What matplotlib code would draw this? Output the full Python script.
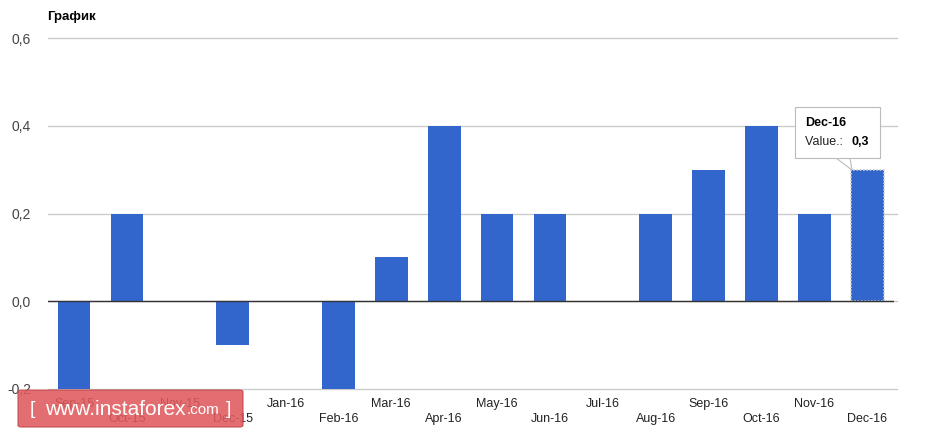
import matplotlib
matplotlib.use("Agg")
import matplotlib.pyplot as plt
from matplotlib.patches import FancyBboxPatch, Polygon

plt.rcParams['font.family'] = ['Liberation Sans', 'DejaVu Sans']

months = ["Sep-15", "Oct-15", "Nov-15", "Dec-15", "Jan-16", "Feb-16", "Mar-16", "Apr-16",
          "May-16", "Jun-16", "Jul-16", "Aug-16", "Sep-16", "Oct-16", "Nov-16", "Dec-16"]
values = [-0.2, 0.2, 0.0, -0.1, 0.0, -0.2, 0.1, 0.4, 0.2, 0.2, 0.0, 0.2, 0.3, 0.4, 0.2, 0.3]
yticks = [-0.2, 0.0, 0.2, 0.4, 0.6]
ytick_labels = ["-0,2", "0,0", "0,2", "0,4", "0,6"]
title = "График"
tooltip_month = "Dec-16"
tooltip_value = "0,3"

W, H = 931, 440
fig = plt.figure(figsize=(W / 100, H / 100), dpi=100)
left, right, top, bottom = 47.6, 893.6, 38, 389
ax = fig.add_axes([left / W, 1 - bottom / H, (right - left) / W, (bottom - top) / H])

x = list(range(len(months)))
bars = ax.bar(x, values, width=0.62, color="#3366cc", zorder=3)
# highlight last bar
bars[-1].set_edgecolor("#cccccc")
bars[-1].set_linewidth(1.2)
bars[-1].set_linestyle((0, (1, 1)))

ax.set_xlim(-0.5, len(months) - 0.5)
ax.set_ylim(-0.2, 0.6)
ax.set_yticks(yticks)
ax.set_yticklabels(ytick_labels, color="#444444", fontsize=10)
for y in yticks:
    ax.axhline(y, color="#cccccc", lw=1, zorder=1, xmax=1.004, clip_on=False)
ax.axhline(0, color="#333333", lw=1, zorder=4)
for s in ax.spines.values():
    s.set_visible(False)
ax.tick_params(axis="both", length=0)
ax.tick_params(axis="y", pad=12)
ax.set_xticks([])

for i, m in enumerate(months):
    yoff = 15 if i % 2 == 0 else 30
    ax.annotate(m, xy=(i, -0.2), xycoords="data", xytext=(0, -yoff), textcoords="offset pixels",
                ha="center", va="center", fontsize=9, color="#222222")

fig.text(47 / W, 1 - 17 / H, title, fontsize=9.5, fontweight="bold", color="#000000",
         ha="left", va="center")

# Tooltip
tx0, ty0, tx1, ty1 = 795, 107, 880, 158
ptr = Polygon([[836 / W, 1 - ty1 / H], [852 / W, 1 - 170 / H], [850 / W, 1 - ty1 / H]],
              closed=True, transform=fig.transFigure, facecolor="white", edgecolor="#bbbbbb",
              lw=0.8, zorder=10)
fig.add_artist(ptr)
box = FancyBboxPatch((tx0 / W, 1 - ty1 / H), (tx1 - tx0) / W, (ty1 - ty0) / H,
                     boxstyle="square,pad=0", transform=fig.transFigure,
                     facecolor="white", edgecolor="#bbbbbb", lw=0.8, zorder=11)
fig.add_artist(box)
fig.text(805 / W, 1 - 123 / H, tooltip_month, fontsize=9, fontweight="bold", color="#000000",
         ha="left", va="center", zorder=12)
fig.text(805 / W, 1 - 142 / H, "Value.: ", fontsize=9, color="#222222",
         ha="left", va="center", zorder=12)
fig.text(851 / W, 1 - 142 / H, tooltip_value, fontsize=9, fontweight="bold", color="#000000",
         ha="left", va="center", zorder=12)

# Watermark
wm = FancyBboxPatch((18 / W, 1 - 427 / H), (243 - 18) / W, (427 - 390) / H,
                    boxstyle="round,pad=0,rounding_size=0.004", transform=fig.transFigure,
                    facecolor="#e05a5e", edgecolor="#c04448", lw=0.8, alpha=0.88, zorder=20)
fig.add_artist(wm)
fig.text(30 / W, 1 - 409 / H, "[", fontsize=14, color="white", ha="left", va="center", zorder=21)
fig.text(45 / W, 1 - 409 / H, "www.instaforex", fontsize=15, color="white",
         ha="left", va="center", zorder=21)
fig.text(187 / W, 1 - 410 / H, ".com", fontsize=11, color="white",
         ha="left", va="center", zorder=21)
fig.text(226 / W, 1 - 409 / H, "]", fontsize=14, color="white", ha="left", va="center", zorder=21)

fig.savefig("out.png", dpi=100, facecolor="white")
